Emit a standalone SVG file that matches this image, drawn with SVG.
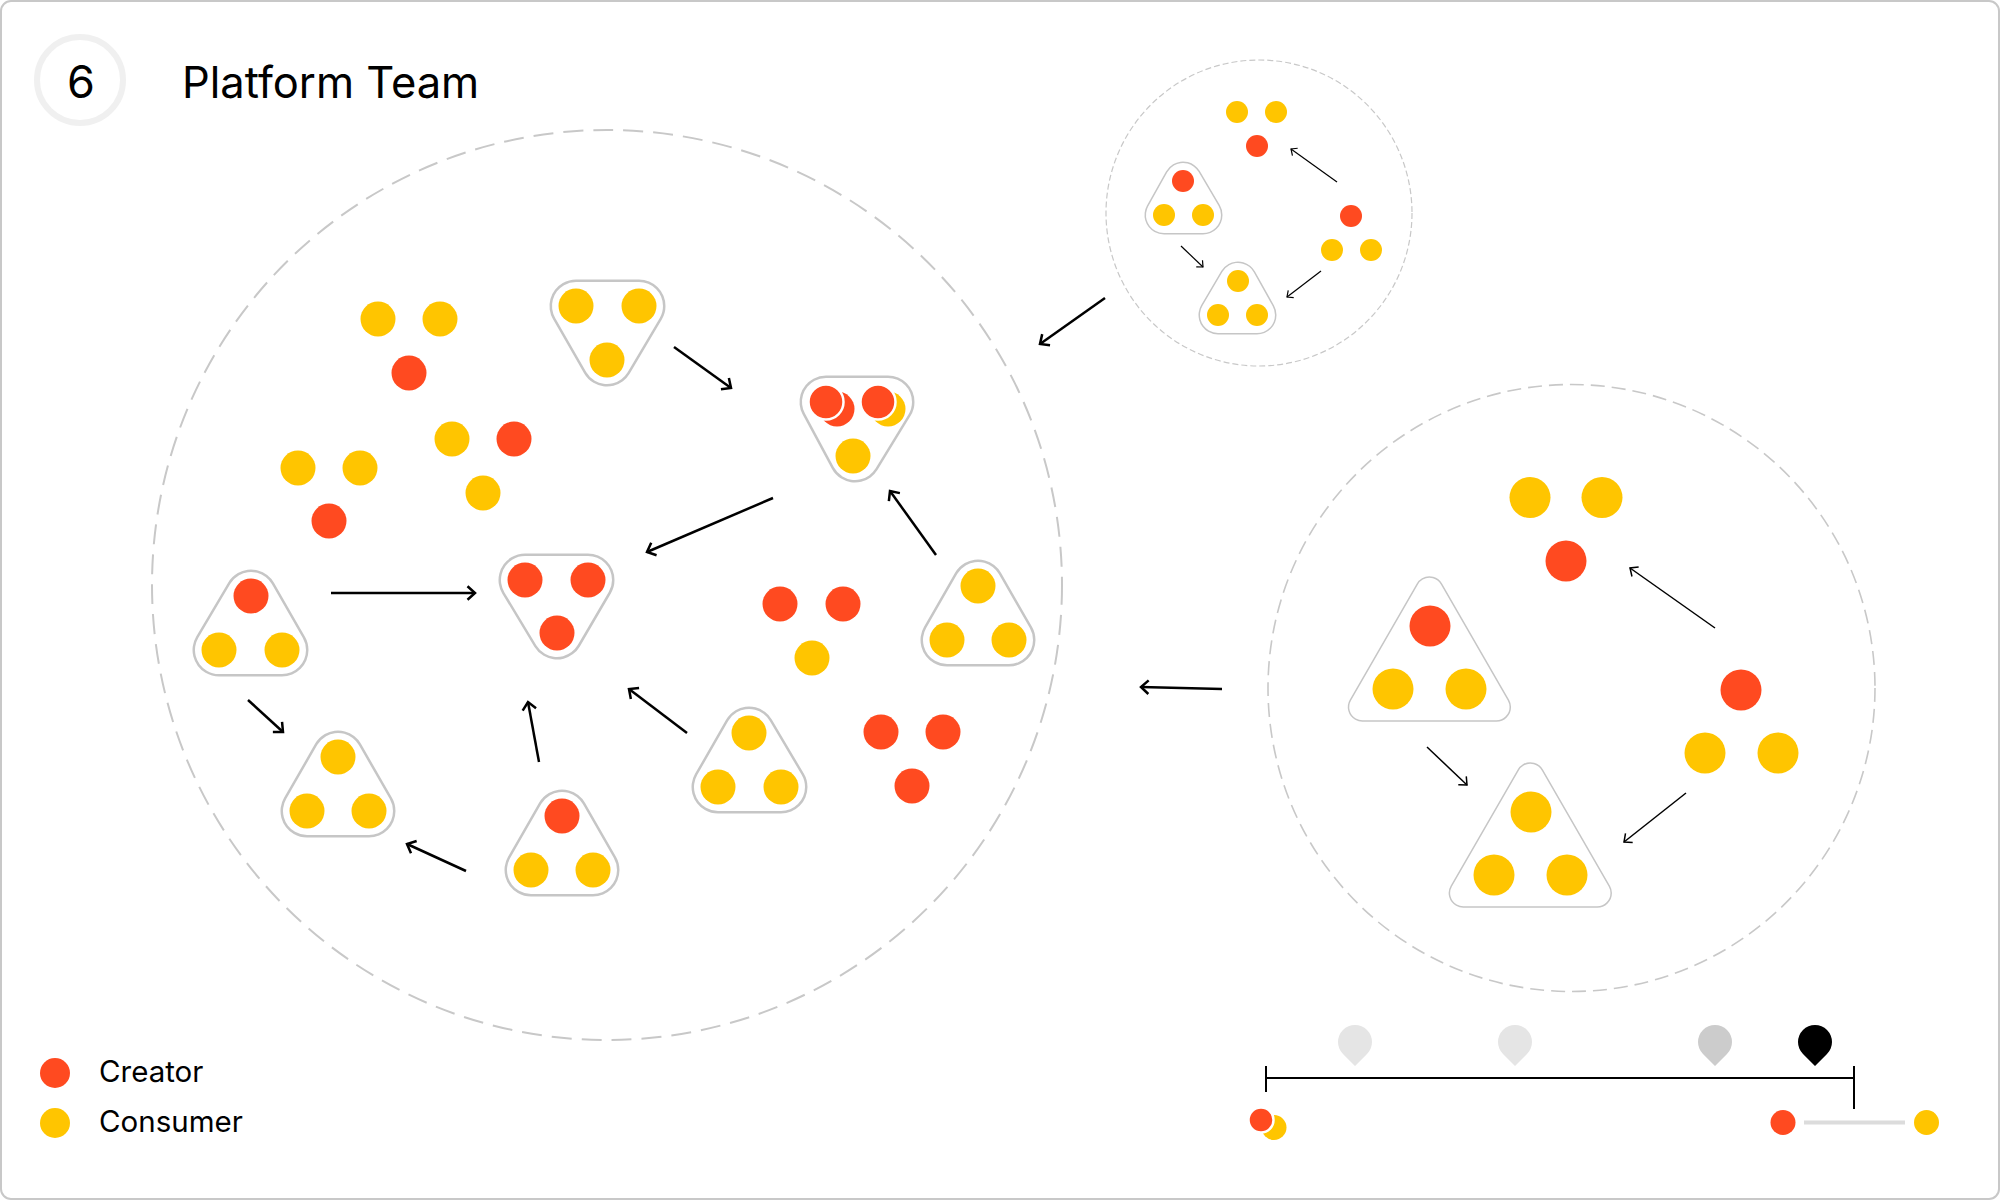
<svg xmlns="http://www.w3.org/2000/svg" width="2000" height="1200" viewBox="0 0 2000 1200">
<defs>
<style>
.r{fill:#FF4A20}
.y{fill:#FFC500}
.fr{fill:#FF4A20;stroke:#fff;stroke-width:2.5}
.txt{font-family:Inter,"Noto Sans","Liberation Sans",sans-serif;fill:#000}
.hullO{fill:#fff;stroke:#c6c6c6;stroke-linejoin:round}
.hullI{fill:#fff;stroke:#fff;stroke-linejoin:round}
.arr{stroke:#000;stroke-width:2.5;fill:none;marker-end:url(#ah)}
.arrT{stroke:#000;stroke-width:1.5;fill:none;marker-end:url(#ahT)}
.arrS{stroke:#000;stroke-width:1.2;fill:none;marker-end:url(#ahS)}
.dash{fill:none;stroke:#c8c8c8}
</style>
<marker id="ah" markerUnits="userSpaceOnUse" orient="auto" overflow="visible" refX="0" refY="0" markerWidth="1" markerHeight="1">
<path d="M-7.5,-6.8 L0,0 L-7.5,6.8" fill="none" stroke="#000" stroke-width="2.5"/>
</marker>
<marker id="ahT" markerUnits="userSpaceOnUse" orient="auto" overflow="visible" refX="0" refY="0" markerWidth="1" markerHeight="1">
<path d="M-6.5,-5.8 L0,0 L-6.5,5.8" fill="none" stroke="#000" stroke-width="1.5"/>
</marker>
<marker id="ahS" markerUnits="userSpaceOnUse" orient="auto" overflow="visible" refX="0" refY="0" markerWidth="1" markerHeight="1">
<path d="M-5,-4.5 L0,0 L-5,4.5" fill="none" stroke="#000" stroke-width="1.2"/>
</marker>
</defs>

<rect x="1" y="1" width="1998" height="1198" rx="10" fill="#fff" stroke="#c8c8c8" stroke-width="2"/>

<g id="header">
<circle cx="80" cy="80" r="43" fill="#fff" stroke="#f0f0f0" stroke-width="6"/>
<text class="txt" x="81" y="98" font-size="45" text-anchor="middle">6</text>
<text class="txt" x="182" y="98" font-size="43.5">Platform Team</text>
</g>

<g id="clusters">
<circle id="main-circle" class="dash" cx="607" cy="585" r="455" stroke-width="2" stroke-dasharray="20 10"/>
<circle id="small-circle" class="dash" cx="1259" cy="213" r="153" stroke-width="1.2" stroke-dasharray="6 3" stroke="#d4d4d4"/>
<circle id="right-circle" class="dash" cx="1571.5" cy="688" r="303.5" stroke-width="1.6" stroke-dasharray="14 7"/>
</g>

<g id="connectors">
<line class="arr" x1="674" y1="347" x2="731" y2="388"/>
<line class="arr" x1="773" y1="498" x2="647" y2="552"/>
<line class="arr" x1="331" y1="593" x2="475" y2="593"/>
<line class="arr" x1="248" y1="700" x2="283" y2="732"/>
<line class="arr" x1="466" y1="871" x2="407" y2="844"/>
<line class="arr" x1="539" y1="762" x2="528" y2="702"/>
<line class="arr" x1="687" y1="733" x2="629" y2="689"/>
<line class="arr" x1="936" y1="555" x2="890" y2="491"/>
<line class="arr" x1="1105" y1="298" x2="1040" y2="344"/>
<line class="arr" x1="1222" y1="689" x2="1141" y2="687"/>
<line class="arrS" x1="1337" y1="182" x2="1291" y2="149"/>
<line class="arrS" x1="1181" y1="246" x2="1203" y2="267"/>
<line class="arrS" x1="1321" y1="271" x2="1287" y2="297"/>
<line class="arrT" x1="1715" y1="628" x2="1630" y2="568"/>
<line class="arrT" x1="1427" y1="747" x2="1467" y2="785"/>
<line class="arrT" x1="1686" y1="793" x2="1624" y2="842"/>
</g>

<!-- main circle: contained groups -->
<g id="node-A">
<polygon class="hullO" stroke-width="53" points="576,306 639,306 607,360"/>
<polygon class="hullI" stroke-width="48" points="576,306 639,306 607,360"/>
<circle class="y" cx="576" cy="306" r="17.5"/><circle class="y" cx="639" cy="306" r="17.5"/><circle class="y" cx="607" cy="360" r="17.5"/>
</g>
<g id="node-B">
<polygon class="hullO" stroke-width="53" points="826,402 888,402 855,456"/>
<polygon class="hullI" stroke-width="48" points="826,402 888,402 855,456"/>
<circle class="r" cx="837" cy="409" r="17.5"/><circle class="y" cx="888" cy="409" r="17.5"/>
<circle class="fr" cx="826" cy="402" r="17.5"/><circle class="fr" cx="878" cy="402" r="17.5"/>
<circle class="y" cx="853" cy="456" r="17.5"/>
</g>
<g id="node-C">
<polygon class="hullO" stroke-width="53" points="525,580 588,580 557,633"/>
<polygon class="hullI" stroke-width="48" points="525,580 588,580 557,633"/>
<circle class="r" cx="525" cy="580" r="17.5"/><circle class="r" cx="588" cy="580" r="17.5"/><circle class="r" cx="557" cy="633" r="17.5"/>
</g>
<g id="node-D">
<polygon class="hullO" stroke-width="53" points="251,596 219,650 282,650"/>
<polygon class="hullI" stroke-width="48" points="251,596 219,650 282,650"/>
<circle class="r" cx="251" cy="596" r="17.5"/><circle class="y" cx="219" cy="650" r="17.5"/><circle class="y" cx="282" cy="650" r="17.5"/>
</g>
<g id="node-E">
<polygon class="hullO" stroke-width="53" points="338,757 307,811 369,811"/>
<polygon class="hullI" stroke-width="48" points="338,757 307,811 369,811"/>
<circle class="y" cx="338" cy="757" r="17.5"/><circle class="y" cx="307" cy="811" r="17.5"/><circle class="y" cx="369" cy="811" r="17.5"/>
</g>
<g id="node-F">
<polygon class="hullO" stroke-width="53" points="562,816 531,870 593,870"/>
<polygon class="hullI" stroke-width="48" points="562,816 531,870 593,870"/>
<circle class="r" cx="562" cy="816" r="17.5"/><circle class="y" cx="531" cy="870" r="17.5"/><circle class="y" cx="593" cy="870" r="17.5"/>
</g>
<g id="node-G">
<polygon class="hullO" stroke-width="53" points="749,733 718,787 781,787"/>
<polygon class="hullI" stroke-width="48" points="749,733 718,787 781,787"/>
<circle class="y" cx="749" cy="733" r="17.5"/><circle class="y" cx="718" cy="787" r="17.5"/><circle class="y" cx="781" cy="787" r="17.5"/>
</g>
<g id="node-H">
<polygon class="hullO" stroke-width="53" points="978,586 947,640 1009,640"/>
<polygon class="hullI" stroke-width="48" points="978,586 947,640 1009,640"/>
<circle class="y" cx="978" cy="586" r="17.5"/><circle class="y" cx="947" cy="640" r="17.5"/><circle class="y" cx="1009" cy="640" r="17.5"/>
</g>

<!-- main circle: loose groups -->
<g id="node-L1"><circle class="y" cx="378" cy="319" r="17.5"/><circle class="y" cx="440" cy="319" r="17.5"/><circle class="r" cx="409" cy="373" r="17.5"/></g>
<g id="node-L2"><circle class="y" cx="452" cy="439" r="17.5"/><circle class="r" cx="514" cy="439" r="17.5"/><circle class="y" cx="483" cy="493" r="17.5"/></g>
<g id="node-L3"><circle class="y" cx="298" cy="468" r="17.5"/><circle class="y" cx="360" cy="468" r="17.5"/><circle class="r" cx="329" cy="521" r="17.5"/></g>
<g id="node-L4"><circle class="r" cx="780" cy="604" r="17.5"/><circle class="r" cx="843" cy="604" r="17.5"/><circle class="y" cx="812" cy="658" r="17.5"/></g>
<g id="node-L5"><circle class="r" cx="881" cy="732" r="17.5"/><circle class="r" cx="943" cy="732" r="17.5"/><circle class="r" cx="912" cy="786" r="17.5"/></g>

<!-- small circle -->
<g id="node-S1"><circle class="y" cx="1237" cy="112" r="11"/><circle class="y" cx="1276" cy="112" r="11"/><circle class="r" cx="1257" cy="146" r="11"/></g>
<g id="node-S2">
<polygon class="hullO" stroke-width="39" points="1183,181 1164,215 1203,215"/>
<polygon class="hullI" stroke-width="36" points="1183,181 1164,215 1203,215"/>
<circle class="r" cx="1183" cy="181" r="11"/><circle class="y" cx="1164" cy="215" r="11"/><circle class="y" cx="1203" cy="215" r="11"/>
</g>
<g id="node-S3">
<polygon class="hullO" stroke-width="39" points="1238,281 1218,315 1257,315"/>
<polygon class="hullI" stroke-width="36" points="1238,281 1218,315 1257,315"/>
<circle class="y" cx="1238" cy="281" r="11"/><circle class="y" cx="1218" cy="315" r="11"/><circle class="y" cx="1257" cy="315" r="11"/>
</g>
<g id="node-S4"><circle class="r" cx="1351" cy="216" r="11"/><circle class="y" cx="1332" cy="250" r="11"/><circle class="y" cx="1371" cy="250" r="11"/></g>

<!-- right circle -->
<g id="node-R1"><circle class="y" cx="1530" cy="497.5" r="20.5"/><circle class="y" cx="1602" cy="497.5" r="20.5"/><circle class="r" cx="1566" cy="561" r="20.5"/></g>
<g id="node-R2">
<polygon class="hullO" stroke-width="29.5" points="1429.4,591 1362.5,707 1496.3,707"/>
<polygon class="hullI" stroke-width="26.5" points="1429.4,591 1362.5,707 1496.3,707"/>
<circle class="r" cx="1430" cy="626" r="20.5"/><circle class="y" cx="1393" cy="689" r="20.5"/><circle class="y" cx="1466" cy="689" r="20.5"/>
</g>
<g id="node-R3">
<polygon class="hullO" stroke-width="29.5" points="1530.3,777 1463.4,893 1597.2,893"/>
<polygon class="hullI" stroke-width="26.5" points="1530.3,777 1463.4,893 1597.2,893"/>
<circle class="y" cx="1531" cy="812" r="20.5"/><circle class="y" cx="1494" cy="875" r="20.5"/><circle class="y" cx="1567" cy="875" r="20.5"/>
</g>
<g id="node-R4"><circle class="r" cx="1741" cy="690" r="20.5"/><circle class="y" cx="1705" cy="753" r="20.5"/><circle class="y" cx="1778" cy="753" r="20.5"/></g>

<g id="legend">
<circle class="r" cx="55" cy="1073" r="15"/>
<text class="txt" x="99" y="1082" font-size="29.5">Creator</text>
<circle class="y" cx="55" cy="1123" r="15"/>
<text class="txt" x="99" y="1132" font-size="29.5">Consumer</text>
</g>

<g id="timeline">
<line x1="1266" y1="1078" x2="1854" y2="1078" stroke="#000" stroke-width="2"/>
<line x1="1266" y1="1066" x2="1266" y2="1092" stroke="#000" stroke-width="2"/>
<line x1="1854" y1="1066" x2="1854" y2="1109" stroke="#000" stroke-width="2"/>
<path d="M1355,1066 L1343,1054 A17,17 0 1 1 1367,1054 Z" fill="#e5e5e5"/>
<path d="M1515,1066 L1503,1054 A17,17 0 1 1 1527,1054 Z" fill="#e5e5e5"/>
<path d="M1715,1066 L1703,1054 A17,17 0 1 1 1727,1054 Z" fill="#cccccc"/>
<path d="M1815,1066 L1803,1054 A17,17 0 1 1 1827,1054 Z" fill="#000"/>
<circle class="y" cx="1274" cy="1127.5" r="12.5"/>
<circle class="fr" cx="1261" cy="1120" r="12.5"/>
<circle class="r" cx="1783" cy="1122.5" r="12.5"/>
<line x1="1804" y1="1122.5" x2="1905" y2="1122.5" stroke="#dcdcdc" stroke-width="4"/>
<circle class="y" cx="1926.5" cy="1122.5" r="12.5"/>
</g>
</svg>
